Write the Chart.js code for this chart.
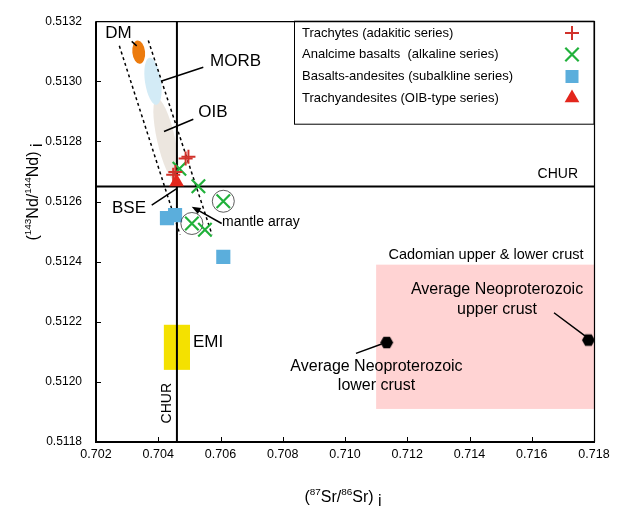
<!DOCTYPE html>
<html>
<head>
<meta charset="utf-8">
<script src="https://cdn.jsdelivr.net/npm/chart.js@4.4.1/dist/chart.umd.min.js"></script>
<style>
  html, body { margin: 0; padding: 0; background: #fff; }
  #wrap { width: 617px; height: 507px; }
</style>
</head>
<body>
<div id="wrap"><canvas id="srnd" width="617" height="507"></canvas></div>
<script>
// Sr-Nd isotope plot
const xTicks = [0.702, 0.704, 0.706, 0.708, 0.710, 0.712, 0.714, 0.716, 0.718];
const yTicks = [0.5118, 0.5120, 0.5122, 0.5124, 0.5126, 0.5128, 0.5130, 0.5132];

const seriesNames = [
    "Trachytes (adakitic series)",
    "Analcime basalts  (alkaline series)",
    "Basalts-andesites (subalkline series)",
    "Trachyandesites (OIB-type series)"
];

const trachyteSr = [0.70488, 0.70497, 0.70448, 0.70455];
const trachyteNd = [0.512743, 0.512749, 0.512689, 0.512698];

const analcimeSr = [0.70468, 0.70529, 0.70609, 0.70508, 0.70550];
const analcimeNd = [0.512709, 0.512651, 0.512601, 0.512527, 0.512506];

const basaltSr = [0.70428, 0.70454, 0.70609];
const basaltNd = [0.512545, 0.512555, 0.512416];

const trachyandesiteSr = [0.70459];
const trachyandesiteNd = [0.512665];

// analcime basalts that are circled
const circledSr = [0.70609, 0.70508];
const circledNd = [0.512601, 0.512527];

// average Neoproterozoic lower / upper crust
const crustSr = [0.71134, 0.71782];
const crustNd = [0.512131, 0.512139];

const churSr = 0.7046;
const churNd = 0.51265;

const FONT = '"Liberation Sans", Arial, Helvetica, sans-serif';

// reservoir fields (data units)
const crustBox = { sr: [0.711, 0.718], nd: [0.51191, 0.51239], fill: "#FFD3D3" };
const emiBox = { sr: [0.70418, 0.70502], nd: [0.51204, 0.51219], fill: "#F4E100" };
const fields = [
    { sr: 0.70425, nd: 0.512807, dSr: 0.000289, dNd: 0.000140, rot: -0.22, fill: "#ECE6DF" }, // OIB
    { sr: 0.703831, nd: 0.513000, dSr: 0.000257, dNd: 0.0000792, rot: -0.15, fill: "#D3EBF6" }, // MORB
    { sr: 0.703372, nd: 0.513097, dSr: 0.000205, dNd: 0.000039, rot: -0.1, fill: "#EC7B0E" }  // DM
];
const mantleArray = [
    [0.70275, 0.513118, 0.70470, 0.51249],
    [0.70368, 0.513136, 0.705727, 0.51249]
];

const labels = [
    { t: "DM", sr: 0.702723, nd: 0.51316, size: 17, align: "center" },
    { t: "MORB", sr: 0.706482, nd: 0.513065, size: 17, align: "center" },
    { t: "OIB", sr: 0.705759, nd: 0.512896, size: 17, align: "center" },
    { t: "BSE", sr: 0.70306, nd: 0.512576, size: 17, align: "center" },
    { t: "EMI", sr: 0.705116, nd: 0.51213, size: 17, align: "left" },
    { t: "mantle array", sr: 0.706048, nd: 0.512533, size: 14, align: "left" },
    { t: "CHUR", sr: 0.717486, nd: 0.512692, size: 14, align: "right" },
    { t: "Cadomian upper & lower crust", sr: 0.71453, nd: 0.512421, size: 14.5, align: "center" },
    { t: "Average Neoproterozoic", sr: 0.714884, nd: 0.512308, size: 16, align: "center" },
    { t: "upper crust", sr: 0.714884, nd: 0.512242, size: 16, align: "center" },
    { t: "Average Neoproterozoic", sr: 0.711012, nd: 0.512051, size: 16, align: "center" },
    { t: "lower crust", sr: 0.711012, nd: 0.511988, size: 16, align: "center" }
];
const leaders = [
    [0.703147, 0.513133, 0.703308, 0.513118],
    [0.704111, 0.513001, 0.705447, 0.513047],
    [0.704185, 0.512833, 0.705126, 0.512874],
    [0.70379, 0.512588, 0.704593, 0.512643],
    [0.716715, 0.51223, 0.717711, 0.512153],
    [0.710353, 0.512095, 0.711179, 0.512126]
];
const arrow = [0.706039, 0.512527, 0.705075, 0.512583];

const colors = { plus: "#D1322B", cross: "#21B13B", square: "#5BAEDC", tri: "#E3261C" };

// black hexagon marker for the crust averages
function hexagon(r) {
    const c = document.createElement("canvas");
    c.width = c.height = Math.ceil(r * 2 + 2);
    const g = c.getContext("2d");
    g.fillStyle = "#000";
    g.beginPath();
    for (let i = 0; i < 6; i++) {
        const a = Math.PI / 3 * i;
        const px = c.width / 2 + r * Math.cos(a), py = c.height / 2 + r * Math.sin(a);
        i ? g.lineTo(px, py) : g.moveTo(px, py);
    }
    g.closePath();
    g.fill();
    return c;
}

function pts(sr, nd) {
    return sr.map((v, i) => ({ x: v, y: nd[i] }));
}

function drawMarker(ctx, kind, x, y) {
    ctx.save();
    if (kind === "plus") {
        ctx.strokeStyle = colors.plus; ctx.lineWidth = 2;
        ctx.beginPath();
        ctx.moveTo(x - 7, y); ctx.lineTo(x + 7, y);
        ctx.moveTo(x, y - 7); ctx.lineTo(x, y + 7);
        ctx.stroke();
    } else if (kind === "cross") {
        const o = 6.7;
        ctx.strokeStyle = colors.cross; ctx.lineWidth = 2.2;
        ctx.beginPath();
        ctx.moveTo(x - o, y - o); ctx.lineTo(x + o, y + o);
        ctx.moveTo(x - o, y + o); ctx.lineTo(x + o, y - o);
        ctx.stroke();
    } else if (kind === "square") {
        ctx.fillStyle = colors.square;
        ctx.fillRect(x - 6.5, y - 6.5, 13, 13);
    } else {
        const r = 8.5;
        ctx.fillStyle = colors.tri;
        ctx.beginPath();
        ctx.moveTo(x, y - r);
        ctx.lineTo(x + r * 0.866, y + r / 2);
        ctx.lineTo(x - r * 0.866, y + r / 2);
        ctx.closePath();
        ctx.fill();
    }
    ctx.restore();
}

function richText(ctx, parts, x, y, size) {
    const widths = parts.map(p => {
        ctx.font = (p[1] === "sup" ? size * 0.62 : size) + "px " + FONT;
        return ctx.measureText(p[0]).width;
    });
    let cx = x - widths.reduce((a, b) => a + b, 0) / 2;
    parts.forEach((p, i) => {
        ctx.font = (p[1] === "sup" ? size * 0.62 : size) + "px " + FONT;
        const dy = p[1] === "sup" ? -size * 0.42 : p[1] === "sub" ? size * 0.22 : 0;
        ctx.fillText(p[0], cx, y + dy);
        cx += widths[i];
    });
}

const overlay = {
    id: "overlay",
    beforeDatasetsDraw(chart) {
        const { ctx, chartArea: a, scales: { x, y } } = chart;
        ctx.save();
        ctx.beginPath();
        ctx.rect(a.left, a.top, a.width, a.height);
        ctx.clip();

        [crustBox, emiBox].forEach(b => {
            const x0 = x.getPixelForValue(b.sr[0]), x1 = x.getPixelForValue(b.sr[1]);
            const y0 = y.getPixelForValue(b.nd[1]), y1 = y.getPixelForValue(b.nd[0]);
            ctx.fillStyle = b.fill;
            ctx.fillRect(x0, y0, x1 - x0, y1 - y0);
        });

        fields.forEach(f => {
            const cx = x.getPixelForValue(f.sr), cy = y.getPixelForValue(f.nd);
            const rx = Math.abs(x.getPixelForValue(f.sr + f.dSr) - cx);
            const ry = Math.abs(y.getPixelForValue(f.nd + f.dNd) - cy);
            ctx.fillStyle = f.fill;
            ctx.beginPath();
            ctx.ellipse(cx, cy, rx, ry, f.rot, 0, Math.PI * 2);
            ctx.fill();
        });

        // CHUR reference lines
        ctx.strokeStyle = "#000";
        ctx.lineWidth = 2;
        ctx.beginPath();
        ctx.moveTo(a.left, y.getPixelForValue(churNd));
        ctx.lineTo(a.right, y.getPixelForValue(churNd));
        ctx.moveTo(x.getPixelForValue(churSr), a.top);
        ctx.lineTo(x.getPixelForValue(churSr), a.bottom);
        ctx.stroke();

        // mantle array envelope
        ctx.lineWidth = 1.5;
        ctx.setLineDash([3, 3]);
        ctx.beginPath();
        mantleArray.forEach(l => {
            ctx.moveTo(x.getPixelForValue(l[0]), y.getPixelForValue(l[1]));
            ctx.lineTo(x.getPixelForValue(l[2]), y.getPixelForValue(l[3]));
        });
        ctx.stroke();
        ctx.restore();
    },
    afterDatasetsDraw(chart) {
        const { ctx, chartArea: a, scales: { x, y } } = chart;
        ctx.save();
        ctx.strokeStyle = "#000";
        ctx.fillStyle = "#000";

        ctx.lineWidth = 1.5;
        ctx.beginPath();
        leaders.forEach(l => {
            ctx.moveTo(x.getPixelForValue(l[0]), y.getPixelForValue(l[1]));
            ctx.lineTo(x.getPixelForValue(l[2]), y.getPixelForValue(l[3]));
        });
        ctx.stroke();

        // mantle array arrow
        const ax0 = x.getPixelForValue(arrow[0]), ay0 = y.getPixelForValue(arrow[1]);
        const ax1 = x.getPixelForValue(arrow[2]), ay1 = y.getPixelForValue(arrow[3]);
        const ang = Math.atan2(ay1 - ay0, ax1 - ax0);
        ctx.beginPath();
        ctx.moveTo(ax0, ay0);
        ctx.lineTo(ax1 - 6 * Math.cos(ang), ay1 - 6 * Math.sin(ang));
        ctx.stroke();
        ctx.beginPath();
        ctx.moveTo(ax1, ay1);
        ctx.lineTo(ax1 - 9 * Math.cos(ang) + 3.5 * Math.sin(ang), ay1 - 9 * Math.sin(ang) - 3.5 * Math.cos(ang));
        ctx.lineTo(ax1 - 9 * Math.cos(ang) - 3.5 * Math.sin(ang), ay1 - 9 * Math.sin(ang) + 3.5 * Math.cos(ang));
        ctx.closePath();
        ctx.fill();

        ctx.textBaseline = "middle";
        labels.forEach(l => {
            ctx.font = l.size + "px " + FONT;
            ctx.textAlign = l.align;
            ctx.fillText(l.t, x.getPixelForValue(l.sr), y.getPixelForValue(l.nd));
        });

        // vertical CHUR label
        ctx.save();
        ctx.translate(x.getPixelForValue(0.704297), y.getPixelForValue(0.511929));
        ctx.rotate(-Math.PI / 2);
        ctx.font = "14px " + FONT;
        ctx.textAlign = "center";
        ctx.fillText("CHUR", 0, 0);
        ctx.restore();

        // legend box
        ctx.lineWidth = 1;
        ctx.strokeRect(294.5, a.top, a.right - 294.5, 103);
        ctx.font = "13px " + FONT;
        ctx.textAlign = "left";
        const kinds = ["plus", "cross", "square", "tri"];
        const rows = [33, 54.5, 76.5, 98];
        seriesNames.forEach((n, i) => {
            ctx.fillStyle = "#000";
            ctx.fillText(n, 302, rows[i]);
            drawMarker(ctx, kinds[i], 572, rows[i]);
        });

        // frame and inside ticks
        ctx.strokeStyle = "#000";
        ctx.lineWidth = 1.2;
        ctx.beginPath();
        ctx.moveTo(a.left, a.top + 0.5); ctx.lineTo(a.right + 0.5, a.top + 0.5);
        ctx.lineTo(a.right + 0.5, a.bottom);
        ctx.stroke();
        ctx.lineWidth = 2;
        ctx.beginPath();
        ctx.moveTo(a.left, a.top); ctx.lineTo(a.left, a.bottom); ctx.lineTo(a.right + 1, a.bottom);
        ctx.stroke();
        ctx.lineWidth = 1;
        ctx.beginPath();
        xTicks.forEach(v => {
            const p = Math.round(x.getPixelForValue(v)) + 0.5;
            ctx.moveTo(p, a.bottom); ctx.lineTo(p, a.bottom - 5);
        });
        yTicks.forEach(v => {
            const p = Math.round(y.getPixelForValue(v)) + 0.5;
            ctx.moveTo(a.left, p); ctx.lineTo(a.left + 5, p);
        });
        ctx.stroke();

        // axis titles
        ctx.fillStyle = "#000";
        ctx.textAlign = "left";
        ctx.textBaseline = "alphabetic";
        richText(ctx, [["(", "n"], ["87", "sup"], ["Sr/", "n"], ["86", "sup"], ["Sr) ", "n"], ["i", "sub"]],
            (a.left + a.right) / 2 - 2, 502, 16);
        ctx.save();
        ctx.translate(38, 192);
        ctx.rotate(-Math.PI / 2);
        richText(ctx, [["(", "n"], ["143", "sup"], ["Nd/", "n"], ["144", "sup"], ["Nd) ", "n"], ["i", "sub"]],
            0, 0, 16);
        ctx.restore();
        ctx.restore();
    }
};

const ctx = document.getElementById("srnd").getContext("2d");

new Chart(ctx, {
    type: "scatter",
    data: {
        datasets: [
            {
                label: seriesNames[3], data: pts(trachyandesiteSr, trachyandesiteNd),
                pointStyle: "triangle", pointRadius: 8.5, pointBackgroundColor: colors.tri,
                pointBorderWidth: 0, order: 1
            },
            {
                label: seriesNames[0], data: pts(trachyteSr, trachyteNd),
                pointStyle: "cross", pointRadius: 7, pointBorderColor: colors.plus,
                pointBorderWidth: 2, order: 2
            },
            {
                label: seriesNames[1], data: pts(analcimeSr, analcimeNd),
                pointStyle: "crossRot", pointRadius: 9.5, pointBorderColor: colors.cross,
                pointBorderWidth: 2.2, order: 3
            },
            {
                label: "circled", data: pts(circledSr, circledNd),
                pointStyle: "circle", pointRadius: 11, pointBackgroundColor: "rgba(0,0,0,0)",
                pointBorderColor: "#333", pointBorderWidth: 0.8, order: 4
            },
            {
                label: seriesNames[2], data: pts(basaltSr, basaltNd),
                pointStyle: "rect", pointRadius: 10, pointBackgroundColor: colors.square,
                pointBorderWidth: 0, order: 5
            },
            {
                label: "Average Neoproterozoic crust", data: pts(crustSr, crustNd),
                pointStyle: hexagon(6.5), pointRadius: 7, order: 6
            }
        ]
    },
    options: {
        responsive: false,
        animation: false,
        events: [],
        layout: { padding: { top: 18, right: 23, left: 0, bottom: 0 } },
        plugins: {
            legend: { display: false },
            tooltip: { enabled: false }
        },
        scales: {
            x: {
                type: "linear",
                min: 0.702,
                max: 0.718,
                afterBuildTicks: s => { s.ticks = xTicks.map(v => ({ value: v })); },
                afterFit: s => { s.height = 65; },
                grid: { display: false, drawTicks: false },
                border: { display: false },
                ticks: {
                    padding: 5,
                    color: "#000",
                    font: { family: FONT, size: 12.5 },
                    maxRotation: 0,
                    callback: v => Number(v).toFixed(3)
                }
            },
            y: {
                type: "linear",
                min: 0.5118,
                max: 0.5132,
                afterBuildTicks: s => { s.ticks = yTicks.map(v => ({ value: v })); },
                afterFit: s => { s.width = 96; },
                grid: { display: false, drawTicks: false },
                border: { display: false },
                ticks: {
                    padding: 14,
                    color: "#000",
                    font: { family: FONT, size: 12 },
                    callback: v => Number(v).toFixed(4)
                }
            }
        }
    },
    plugins: [overlay]
});
</script>
</body>
</html>
